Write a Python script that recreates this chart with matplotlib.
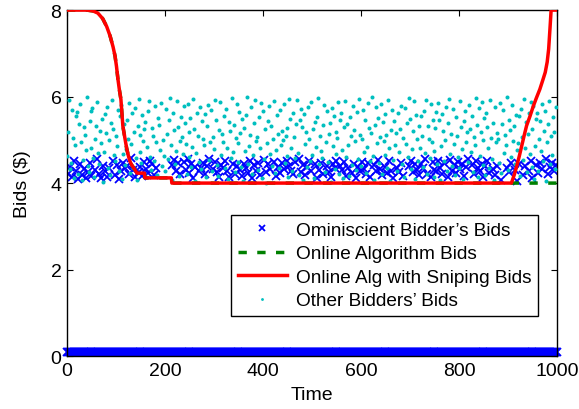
import numpy as np
import matplotlib
matplotlib.use("Agg")
import matplotlib.pyplot as plt

nan = np.nan

# red curve: online algorithm with sniping
red_t = [0, 40, 53, 63, 73, 81, 88, 94, 98, 101, 104, 107, 110, 114, 118, 122,
         126, 129, 132, 135, 139, 143, 158, 159, 213, 214, 907, 913, 918, 923,
         928, 933, 938, 945, 952, 958, 965, 971, 976, 980, 983, 986, 988, 1000]
red_y = [8.0, 8.0, 7.98, 7.93, 7.8, 7.62, 7.4, 7.15, 6.94, 6.7, 6.4, 6.15, 5.94,
         5.32, 5.05, 4.79, 4.6, 4.49, 4.42, 4.37, 4.3, 4.23, 4.23, 4.12, 4.12,
         4.0, 4.0, 4.2, 4.4, 4.62, 4.86, 5.1, 5.33, 5.55, 5.79, 5.97, 6.17, 6.38,
         6.56, 6.8, 7.1, 7.63, 8.0, 8.0]

# green dashed: online algorithm (same as red until the sniping starts)
green_t = red_t[:27] + [1000]
green_y = red_y[:27] + [4.0]

# other bidders' bids, one every 2 time steps
cyan_t = np.arange(0, 1000, 2)
cyan_y = [
    4.62, 5.18, 5.91, 4.33, 4.47, 5.70, 5.05, 4.12, 4.88, 5.56, 5.64, 4.21, 5.37, 5.83, 4.95, 4.07, 4.54, 5.29, 5.12, 4.76,
    5.98, 4.39, 4.26, 5.44, 4.81, 5.67, 5.73, 4.58, 4.14, 5.02, 5.31, 5.88, 4.69, 4.44, 5.21, 4.92, 5.49, 4.03, 4.73, 5.60,
    5.15, 5.77, 4.36, 4.99, 4.18, 5.40, 5.93, 5.26, 4.64, 4.52, 5.08, 4.85, 5.69, 4.29, 5.54, 5.81, 4.10, 4.67, 5.36, 4.41,
    4.79, 5.47, 5.03, 5.85, 4.24, 4.90, 5.62, 4.35, 5.19, 5.74, 4.57, 4.06, 5.33, 5.95, 4.71, 5.11, 4.46, 5.58, 4.97, 5.24,
    5.42, 4.15, 4.83, 5.66, 5.90, 4.60, 4.31, 5.27, 5.09, 4.50, 5.79, 4.94, 4.19, 5.51, 5.35, 4.77, 5.86, 4.40, 5.00, 4.63,
    4.28, 5.72, 5.14, 4.56, 5.45, 5.97, 4.89, 4.08, 5.61, 5.22, 4.43, 4.74, 5.89, 5.30, 4.16, 4.98, 5.53, 5.06, 4.68, 5.78,
    5.39, 4.91, 4.22, 5.84, 4.61, 5.17, 5.50, 4.37, 4.84, 5.94, 5.25, 4.05, 4.70, 5.63, 5.10, 4.49, 5.76, 4.32, 5.43, 5.01,
    4.87, 5.59, 4.13, 5.32, 5.80, 4.53, 4.96, 5.68, 4.27, 5.07, 4.78, 5.92, 5.46, 4.42, 4.17, 5.23, 5.87, 4.66, 5.13, 4.95,
    5.55, 4.34, 5.71, 4.80, 4.09, 5.41, 5.20, 4.59, 5.96, 4.72, 5.34, 4.25, 5.04, 5.82, 4.48, 4.93, 5.65, 5.16, 4.38, 5.48,
    4.04, 5.28, 4.75, 5.57, 5.99, 4.45, 4.86, 5.12, 5.75, 4.20, 4.65, 5.38, 5.91, 4.97, 5.06, 4.30, 5.52, 4.82, 5.85, 4.11,
    5.67, 4.55, 5.24, 4.01, 4.92, 5.44, 5.79, 4.68, 5.31, 4.40, 5.03, 5.89, 4.23, 4.76, 5.58, 5.14, 4.35, 5.70, 4.87, 5.21,
    4.99, 5.83, 4.46, 5.10, 4.62, 5.27, 4.14, 5.94, 5.49, 4.81, 4.28, 5.62, 5.07, 4.57, 5.36, 5.93, 4.70, 4.19, 5.45, 5.72,
    5.30, 4.07, 5.60, 4.90, 5.18, 4.37, 5.76, 5.02, 4.52, 5.88, 4.64, 5.25, 4.11, 5.42, 4.83, 5.53, 5.97, 4.44, 5.09, 4.74,
    4.58, 5.35, 5.81, 4.26, 4.95, 5.66, 4.49, 5.13, 5.40, 4.02, 5.74, 4.86, 5.55, 4.33, 5.19, 4.68, 5.04, 5.87, 4.21, 5.47,
    5.63, 4.77, 4.12, 5.29, 5.90, 4.60, 5.37, 4.89, 4.16, 5.52, 5.08, 4.42, 5.78, 5.22, 4.97, 4.30, 5.65, 4.55, 5.95, 5.11,
    4.39, 5.01, 5.69, 4.73, 5.46, 4.24, 4.84, 5.85, 5.28, 4.51, 5.15, 5.98, 4.63, 4.08, 5.34, 5.77, 4.93, 5.50, 4.47, 5.06,
    5.84, 4.20, 5.41, 4.98, 4.66, 5.59, 5.12, 4.35, 5.92, 4.80, 4.04, 5.23, 5.70, 4.54, 5.44, 4.88, 5.16, 4.27, 5.61, 4.71,
    5.26, 5.79, 4.43, 5.05, 4.15, 5.73, 4.90, 5.38, 4.61, 5.96, 5.48, 4.32, 4.78, 5.20, 5.89, 4.10, 5.57, 5.02, 4.50, 5.33,
    4.82, 5.54, 5.10, 4.38, 5.67, 4.69, 5.91, 4.22, 5.32, 5.03, 4.57, 5.82, 4.96, 5.45, 4.13, 4.75, 5.27, 5.64, 4.45, 5.86,
    5.47, 4.06, 4.85, 5.60, 5.21, 4.52, 5.00, 5.75, 4.29, 5.39, 5.94, 4.67, 5.13, 4.40, 5.71, 4.91, 4.18, 5.52, 5.08, 4.60,
    4.34, 5.90, 5.30, 4.79, 4.09, 5.43, 5.66, 4.95, 5.17, 4.48, 5.81, 5.24, 4.72, 5.56, 4.25, 5.06, 4.87, 5.97, 5.35, 4.14,
    5.74, 4.63, 5.19, 5.87, 4.41, 4.99, 5.50, 4.18, 5.62, 5.29, 4.82, 4.36, 5.93, 5.04, 4.56, 5.40, 4.07, 5.77, 4.94, 5.15,
    5.02, 4.47, 5.85, 4.23, 5.36, 5.68, 4.70, 5.11, 4.88, 5.99, 4.31, 5.46, 5.22, 4.61, 5.80, 4.97, 5.33, 4.44, 5.58, 4.76,
    4.92, 5.55, 4.16, 5.72, 5.07, 4.54, 5.95, 4.81, 5.41, 4.26, 5.14, 5.63, 4.68, 5.88, 4.38, 5.26, 5.79, 4.10, 4.85, 5.49,
    5.61, 4.28, 5.03, 5.44, 4.74, 5.84, 4.51, 5.20, 5.67, 4.05, 4.96, 5.37, 5.90, 4.43, 5.10, 4.65, 5.53, 5.18, 4.32, 5.76,
]

# omniscient bidder's winning bids, one every 4 time steps (nan = no bid)
blue_t = np.arange(2, 1000, 4)
blue_y = [
    4.21, 4.38, 4.15, 4.52, 4.27, 4.09, 4.44, 4.19, 4.33, 4.12,
    4.25, 4.47, 4.16, nan, 4.31, 4.55, 4.20, 4.11, 4.39, 4.28,
    4.14, 4.36, nan, 4.50, 4.18, 4.42, 4.10, 4.29, 4.46, 4.34,
    4.40, 4.22, 4.57, 4.30, 4.13, nan, 4.26, 4.37, 4.17, 4.48,
    4.32, 4.24, 4.51, 4.43, 4.19, 4.35, nan, nan, nan, nan,
    nan, nan, nan, 4.41, 4.53, 4.28, 4.46, 4.20, nan, 4.49,
    4.31, 4.56, 4.24, 4.43, 4.12, 4.38, nan, 4.27, 4.34, 4.47,
    4.22, 4.40, 4.55, nan, 4.33, 4.48, 4.26, 4.15, 4.42, 4.36,
    4.50, 4.29, 4.13, nan, 4.44, 4.21, 4.39, nan, 4.30, 4.17,
    4.45, 4.35, 4.24, 4.52, 4.11, 4.41, 4.28, 4.47, 4.19, nan,
    4.54, 4.26, 4.43, 4.32, nan, 4.49, 4.16, 4.38, 4.23, 4.46,
    4.33, nan, 4.51, 4.40, 4.27, 4.20, 4.48, nan, 4.56, 4.25,
    4.42, 4.18, 4.37, 4.50, 4.29, nan, 4.44, 4.12, 4.31, 4.47,
    4.22, nan, 4.39, 4.26, 4.15, 4.45, 4.34, 4.52, nan, 4.40,
    4.30, 4.48, 4.17, 4.36, nan, 4.24, 4.43, 4.11, 4.38, 4.27,
    4.49, 4.33, 4.20, 4.46, 4.14, nan, 4.41, 4.28, 4.54, 4.32,
    4.19, nan, 4.37, 4.23, 4.50, 4.29, 4.12, nan, 4.35, 4.26,
    4.47, 4.16, nan, nan, 4.39, 4.52, 4.25, 4.43, 4.31, 4.18,
    4.44, 4.36, 4.55, 4.22, nan, 4.13, 4.48, 4.30, 4.27, 4.51,
    4.34, 4.20, 4.46, nan, 4.15, 4.53, 4.28, 4.42, 4.24, 4.49,
    4.32, 4.45, 4.17, 4.37, 4.56, nan, 4.41, 4.21, 4.50, 4.35,
    4.28, 4.43, 4.14, 4.39, 4.52, 4.23, nan, 4.33, 4.19, 4.40,
    nan, 4.08, nan, nan, 4.36, 4.25, 4.46, nan, 4.30, 4.05,
    4.44, nan, 4.18, 4.39, nan, 4.27, 4.50, 4.12, nan, 4.42,
    4.24, 4.47, 4.33, nan, 4.55, 4.20, 4.38, 4.46, 4.29, 4.41,
]

# omniscient bidder's losing (minimum) bids along the bottom
low_t = np.arange(0, 1001, 2)
low_bid = 0.1

plt.rcParams['font.family'] = ['Liberation Sans', 'DejaVu Sans']
plt.rcParams['font.size'] = 14

fig = plt.figure(figsize=(5.79, 4.10), dpi=100)
ax = fig.add_axes([0.1157, 0.129, 0.8463, 0.844])

ax.plot(low_t, np.full(len(low_t), low_bid), 'x', color='blue', ms=5.5, mew=1.3,
        clip_on=False, zorder=2)
h_blue, = ax.plot(blue_t, blue_y, 'x', color='blue', ms=6.3, mew=1.3, zorder=2)
h_cyan, = ax.plot(cyan_t, cyan_y, 'o', color=(0, 0.75, 0.75), ms=2.9, mew=0,
                  zorder=3)
h_green, = ax.plot(green_t, green_y, '--', color=(0, 0.5, 0), lw=2.5,
                   dashes=(2.4, 3.0), zorder=4)
h_red, = ax.plot(red_t, red_y, '-', color='red', lw=2.5, zorder=5)

ax.set_xlim(0, 1000)
ax.set_ylim(0, 8)
ax.set_xticks([0, 200, 400, 600, 800, 1000])
ax.set_yticks([0, 2, 4, 6, 8])
ax.tick_params(direction='in', top=True, right=True, length=4, width=0.8,
               labelsize=14, pad=4)
for s in ax.spines.values():
    s.set_linewidth(1.0)
ax.set_xlabel('Time', fontsize=14, labelpad=5)
ax.set_ylabel('Bids ($)', fontsize=14, labelpad=14)

leg = ax.legend([h_blue, h_green, h_red, h_cyan],
                ["Ominiscient Bidder\u2019s Bids", 'Online Algorithm Bids',
                 'Online Alg with Sniping Bids', "Other Bidders\u2019 Bids"],
                loc='lower right', bbox_to_anchor=(0.961, 0.116),
                fontsize=13.7, fancybox=False, framealpha=1, edgecolor='black',
                handlelength=2.6, handletextpad=0.45, labelspacing=0.32,
                borderpad=0.35, borderaxespad=0, markerscale=0.7)
leg.get_frame().set_linewidth(1.0)

fig.savefig('out.png', dpi=100)
